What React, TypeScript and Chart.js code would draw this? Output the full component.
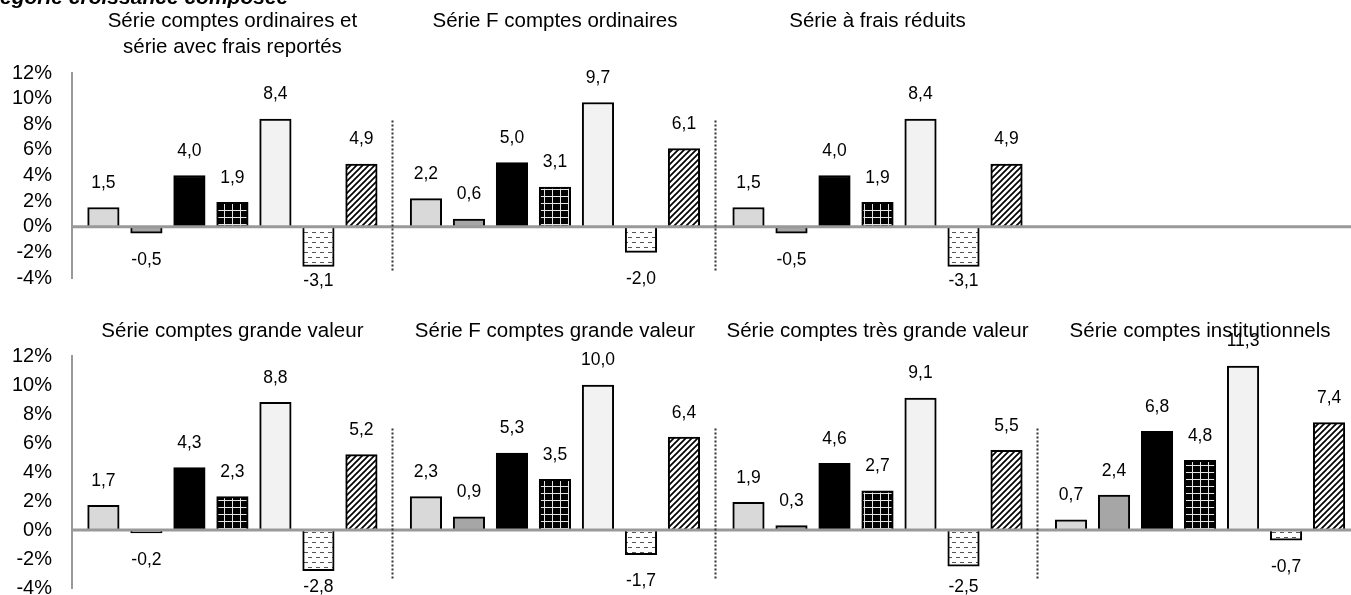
import React, { useEffect, useRef } from 'react';
import { Chart, registerables } from 'chart.js';

Chart.register(...registerables);

// ---------- data ----------
const headerText = 'égorie croissance composée';

const seriesLabels = ['Barre 1', 'Barre 2', 'Barre 3', 'Barre 4', 'Barre 5', 'Barre 6', 'Barre 7'];

const ordinairesReportes = [1.5, -0.5, 4.0, 1.9, 8.4, -3.1, 4.9];
const fOrdinaires = [2.2, 0.6, 5.0, 3.1, 9.7, -2.0, 6.1];
const fraisReduits = [1.5, -0.5, 4.0, 1.9, 8.4, -3.1, 4.9];

const grandeValeur = [1.7, -0.2, 4.3, 2.3, 8.8, -2.8, 5.2];
const fGrandeValeur = [2.3, 0.9, 5.3, 3.5, 10.0, -1.7, 6.4];
const tresGrandeValeur = [1.9, 0.3, 4.6, 2.7, 9.1, -2.5, 5.5];
const institutionnels = [0.7, 2.4, 6.8, 4.8, 11.3, -0.7, 7.4];

const topTitles = [
  ['Série comptes ordinaires et', 'série avec frais reportés'],
  ['Série F comptes ordinaires'],
  ['Série à frais réduits'],
];
const bottomTitles = [
  ['Série comptes grande valeur'],
  ['Série F comptes grande valeur'],
  ['Série comptes très grande valeur'],
  ['Série comptes institutionnels'],
];

const yMin = -4;
const yMax = 12;
const yStep = 2;

// ---------- layout / style ----------
const FONT = '"Liberation Sans", Arial, Helvetica, sans-serif';
const PANEL_PITCH = 7.5;
const X_MIN = -0.73;
const X_MAX = 29.01;
const W = 1351;

type RowSpec = {
  panels: number[][];
  titles: string[][];
  top: number;
  height: number;
  padTop: number;
  padBottom: number;
  titleY: number;
  sepFrom: number;
  sepTo: number;
  separators: number;
  labelClamp: number;
  header?: string;
};

const topRow: RowSpec = {
  panels: [ordinairesReportes, fOrdinaires, fraisReduits],
  titles: topTitles,
  top: 0,
  height: 309,
  padTop: 73,
  padBottom: 13,
  titleY: 21.5,
  sepFrom: 8.3,
  sepTo: -3.45,
  separators: 2,
  labelClamp: 3,
  header: headerText,
};

const bottomRow: RowSpec = {
  panels: [grandeValeur, fGrandeValeur, tresGrandeValeur, institutionnels],
  titles: bottomTitles,
  top: 290,
  height: 329,
  padTop: 66,
  padBottom: 13,
  titleY: 41,
  sepFrom: 7.0,
  sepTo: -3.4,
  separators: 3,
  labelClamp: -1,
};

function makeFills(ctx: CanvasRenderingContext2D): (string | CanvasPattern)[] {
  const mk = (w: number, h: number, draw: (c: CanvasRenderingContext2D) => void) => {
    const c = document.createElement('canvas');
    c.width = w;
    c.height = h;
    const g = c.getContext('2d')!;
    draw(g);
    return ctx.createPattern(c, 'repeat') as CanvasPattern;
  };
  const grid = mk(8, 7, (g) => {
    g.fillStyle = '#000';
    g.fillRect(0, 0, 8, 7);
    g.fillStyle = '#e6e6e6';
    g.fillRect(0, 0, 1, 7);
    g.fillRect(0, 0, 8, 1);
  });
  const dashes = mk(8, 10, (g) => {
    g.fillStyle = '#fff';
    g.fillRect(0, 0, 8, 10);
    g.fillStyle = '#555';
    g.fillRect(0, 2, 4, 1);
    g.fillRect(4, 7, 4, 1);
  });
  const hatch = mk(6, 6, (g) => {
    g.fillStyle = '#fff';
    g.fillRect(0, 0, 6, 6);
    g.strokeStyle = '#000';
    g.lineWidth = 1.7;
    g.beginPath();
    g.moveTo(-1, 7);
    g.lineTo(7, -1);
    g.moveTo(-1, 1);
    g.lineTo(1, -1);
    g.moveTo(5, 7);
    g.lineTo(7, 5);
    g.stroke();
  });
  return ['#d9d9d9', '#a6a6a6', '#000000', grid, '#f2f2f2', dashes, hatch];
}

const fmt = (v: number) => v.toFixed(1).replace('.', ',');

function PanelRow({ row }: { row: RowSpec }) {
  const ref = useRef<HTMLCanvasElement>(null);
  useEffect(() => {
    const canvas = ref.current!;
    const ctx = canvas.getContext('2d')!;
    const fills = makeFills(ctx);
    const datasets = fills.map((fill, s) => ({
      label: seriesLabels[s],
      data: row.panels.map((vals, p) => ({ x: p * PANEL_PITCH + s, y: vals[s] })),
      backgroundColor: fill,
      borderColor: '#000',
      borderWidth: 2,
      grouped: false,
      barThickness: 31.5,
    }));

    const overlay = {
      id: 'overlay',
      afterDatasetsDraw(chart: any) {
        const { ctx: c, chartArea, scales } = chart;
        const xs = scales.x;
        const ys = scales.y;
        c.save();
        // zero line
        const y0 = ys.getPixelForValue(0);
        c.strokeStyle = '#999999';
        c.lineWidth = 3;
        c.beginPath();
        c.moveTo(chartArea.left, y0);
        c.lineTo(chartArea.right, y0);
        c.stroke();
        // dotted separators
        c.setLineDash([2, 2]);
        c.strokeStyle = '#333';
        c.lineWidth = 2;
        for (let p = 1; p <= row.separators; p++) {
          const sx = Math.round(xs.getPixelForValue(p * PANEL_PITCH - 0.78)) + 0.5;
          c.beginPath();
          c.moveTo(sx, ys.getPixelForValue(row.sepFrom));
          c.lineTo(sx, ys.getPixelForValue(row.sepTo));
          c.stroke();
        }
        c.setLineDash([]);
        // value labels
        c.fillStyle = '#000';
        c.font = `17.5px ${FONT}`;
        c.textAlign = 'center';
        c.textBaseline = 'middle';
        chart.data.datasets.forEach((ds: any, di: number) => {
          const meta = chart.getDatasetMeta(di);
          meta.data.forEach((el: any, i: number) => {
            const v = ds.data[i].y;
            let ly;
            if (v >= 0) ly = el.y - 24.5;
            else ly = Math.min(el.y + 27, chartArea.bottom + row.labelClamp);
            c.fillText(fmt(v), el.x, ly);
          });
        });
        // titles
        c.font = `20.5px ${FONT}`;
        row.titles.forEach((lines, p) => {
          const cx = xs.getPixelForValue(p * PANEL_PITCH + 3);
          lines.forEach((t, li) => {
            c.fillText(t, cx, row.titleY + li * 26);
          });
        });
        // header
        if (row.header) {
          c.font = `italic bold 21px ${FONT}`;
          c.textAlign = 'left';
          c.textBaseline = 'alphabetic';
          c.fillText(row.header, 0, 4);
        }
        c.restore();
      },
    };

    const chart = new Chart(canvas, {
      type: 'bar',
      data: { datasets: datasets as any },
      options: {
        responsive: false,
        animation: false,
        devicePixelRatio: 1,
        layout: { padding: { top: row.padTop, bottom: row.padBottom, left: 0, right: 0 } },
        plugins: { legend: { display: false }, tooltip: { enabled: false } },
        scales: {
          x: {
            type: 'linear',
            display: false,
            min: X_MIN,
            max: X_MAX,
            offset: false,
            ticks: { display: false },
            grid: { display: false, drawTicks: false },
            border: { display: false },
          },
          y: {
            min: yMin,
            max: yMax,
            ticks: {
              stepSize: yStep,
              autoSkip: false,
              callback: (v: any) => `${v}%`,
              padding: 20,
              color: '#000',
              font: { family: FONT, size: 20, lineHeight: 1.1 },
            },
            grid: { drawOnChartArea: false, drawTicks: false, color: 'transparent' },
            border: { color: '#999999', width: 2 },
            afterFit: (s: any) => {
              s.width = 72;
            },
          },
        },
      } as any,
      plugins: [overlay],
    });
    return () => chart.destroy();
  }, [row]);

  return (
    <canvas
      ref={ref}
      width={W}
      height={row.height}
      style={{ position: 'absolute', left: 0, top: row.top, width: W, height: row.height }}
    />
  );
}

export default function App() {
  return (
    <div
      style={{
        position: 'absolute',
        left: 0,
        top: 0,
        width: W,
        height: 595,
        overflow: 'hidden',
        background: '#fff',
      }}
    >
      <PanelRow row={topRow} />
      <PanelRow row={bottomRow} />
    </div>
  );
}
